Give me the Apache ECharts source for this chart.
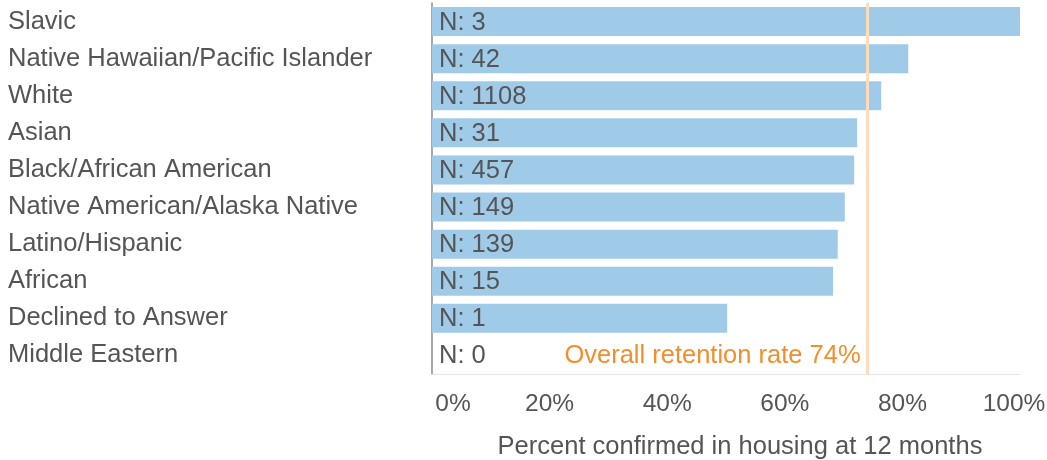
<!DOCTYPE html>
<html>
<head>
<meta charset="utf-8">
<script src="https://cdn.jsdelivr.net/npm/echarts@6/dist/echarts.min.js"></script>
<style>
  html, body { margin: 0; padding: 0; background: #fff; }
  #chart { width: 1047px; height: 460px; }
</style>
</head>
<body>
<div id="chart"></div>
<script>
// groups, top to bottom
const groups = [
  'Slavic',
  'Native Hawaiian/Pacific Islander',
  'White',
  'Asian',
  'Black/African American',
  'Native American/Alaska Native',
  'Latino/Hispanic',
  'African',
  'Declined to Answer',
  'Middle Eastern'
]
// percent retained at 12 months
const retention = [100, 81, 76.4, 72.3, 71.8, 70.2, 69, 68.2, 50.2, 0]
// sample size per group
const counts = [3, 42, 1108, 31, 457, 149, 139, 15, 1, 0]
const overallRate = 74
const xTicks = { min: 0, max: 100, step: 20 }

const textColor = '#555'
const font = 'Liberation Sans, Arial, sans-serif'

const chart = echarts.init(document.getElementById('chart'))

chart.setOption({
  animation: false,
  grid: {
    left: 432,
    right: 27,
    top: 3,
    height: 371,
    containLabel: false,
    outerBoundsMode: 'none'
  },
  xAxis: {
    type: 'value',
    min: xTicks.min,
    max: xTicks.max,
    interval: xTicks.step,
    name: 'Percent confirmed in housing at 12 months',
    nameLocation: 'middle',
    nameGap: 60,
    nameTextStyle: {
      color: textColor,
      fontSize: 25.5,
      fontFamily: font,
      padding: [0, 0, 0, 28]
    },
    axisLine: { show: true, lineStyle: { color: '#e6e6e6', width: 1 } },
    axisTick: { show: false },
    splitLine: { show: false },
    axisLabel: {
      color: textColor,
      fontSize: 24.5,
      fontFamily: font,
      margin: 18,
      formatter: v => {
        if (v === xTicks.min) return '{first|' + v + '%}'
        if (v === xTicks.max) return '{last|' + v + '%}'
        return v + '%'
      },
      rich: {
        first: { color: textColor, fontSize: 24.5, fontFamily: font, padding: [0, 0, 0, 42] },
        last: { color: textColor, fontSize: 24.5, fontFamily: font, padding: [0, 12, 0, 0] }
      }
    }
  },
  yAxis: {
    type: 'category',
    data: groups,
    inverse: true,
    axisLine: { show: true, lineStyle: { color: '#8c8c8c', width: 1.5 } },
    axisTick: { show: false },
    axisLabel: {
      color: textColor,
      fontSize: 25.5,
      fontFamily: font,
      align: 'left',
      margin: 424,
      padding: [2, 0, 0, 0]
    }
  },
  series: [
    {
      type: 'bar',
      data: retention,
      barWidth: 29,
      itemStyle: { color: '#a0cbe8' },
      label: {
        show: true,
        position: 'insideLeft',
        distance: 7,
        offset: [0, 1],
        color: textColor,
        fontSize: 25.5,
        fontFamily: font,
        formatter: p => 'N: ' + counts[p.dataIndex]
      },
      markLine: {
        silent: true,
        symbol: 'none',
        label: { show: false },
        lineStyle: { color: '#fddcbc', width: 3, type: 'solid' },
        data: [{ xAxis: overallRate }]
      },
      markPoint: {
        silent: true,
        symbol: 'rect',
        symbolSize: 1,
        itemStyle: { color: 'rgba(0,0,0,0)' },
        label: {
          show: true,
          position: 'left',
          distance: 6,
          offset: [0, 1],
          color: '#f28e2b',
          fontSize: 25.5,
          fontFamily: font,
          formatter: 'Overall retention rate ' + overallRate + '%'
        },
        data: [{ coord: [overallRate, groups[groups.length - 1]] }]
      }
    }
  ]
})
</script>
</body>
</html>
